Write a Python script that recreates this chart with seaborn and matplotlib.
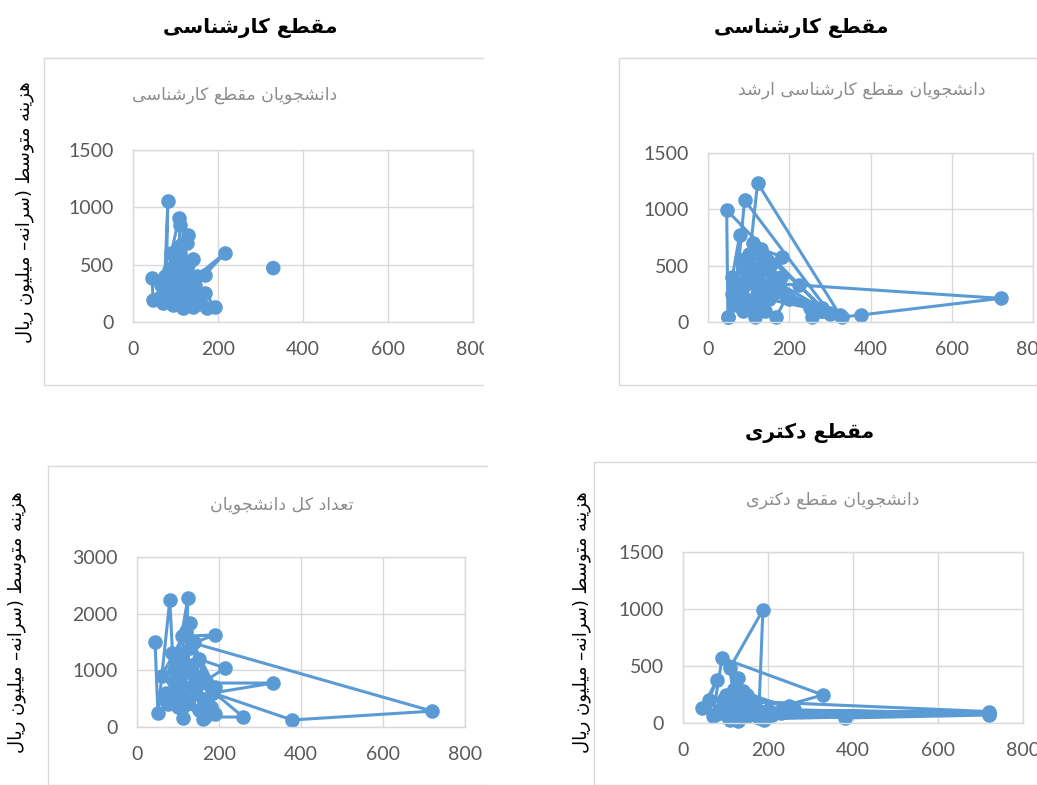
import numpy as np
import pandas as pd
import matplotlib
matplotlib.use("Agg")
import matplotlib.pyplot as plt
from matplotlib.lines import Line2D
from matplotlib.patches import Rectangle
import seaborn as sns

# ---- data ----
bach_x = [75, 82, 78, 90, 108, 111, 105, 129, 115, 127, 100, 45, 47, 70, 85, 118, 130, 140, 120, 169, 216, 150, 130, 174, 193, 170, 90, 110, 100, 130, 115, 85, 105, 125, 95,
          100, 120, 140, 110, 90, 150, 135, 95, 125, 145, 105, 80, 65, 115, 140, 100, 160, 70, 85, 60]
bach_y = [400, 1055, 300, 600, 907, 846, 500, 759, 680, 690, 400, 384, 190, 250, 180, 122, 300, 130, 450, 410, 600, 400, 200, 122, 130, 250, 350, 550, 250, 500, 150, 450, 300, 350, 200,
          350, 200, 550, 600, 450, 250, 400, 150, 180, 320, 650, 280, 320, 380, 220, 520, 160, 170, 230, 210]
bach_solo_x = [330]
bach_solo_y = [470]

ms_x = [280, 46, 49, 60, 78, 70, 90, 300, 100, 122, 325, 256, 329, 376, 720, 224, 110, 115, 130, 183, 140, 90, 168, 193, 120, 60, 100, 160, 140, 80, 200, 110, 130, 250, 95, 150, 70, 120, 170, 105, 50,
        110, 300, 90, 140, 75, 160, 100, 130, 65, 115, 180, 85, 125, 280, 150, 95]
ms_y = [120, 994, 44, 400, 772, 300, 1083, 80, 500, 1234, 60, 44, 44, 62, 210, 328, 350, 44, 650, 577, 300, 200, 44, 222, 600, 250, 150, 400, 100, 550, 200, 350, 450, 120, 350, 500, 150, 250, 300, 400, 44,
        700, 70, 450, 550, 200, 250, 600, 150, 350, 480, 400, 100, 300, 100, 200, 520]

tot_x = [44, 51, 80, 90, 124, 120, 110, 190, 137, 720, 378, 185, 150, 215, 100, 332, 170, 112, 130, 166, 259, 140, 100, 120, 190, 90, 150, 70, 130, 160, 110, 75, 140, 180, 100, 160, 60, 120, 190,
         95, 130, 105, 170, 85, 145, 115, 65, 135, 175, 100, 125]
tot_y = [1500, 247, 2241, 800, 2276, 1000, 1600, 1624, 1482, 280, 124, 600, 1200, 1041, 500, 776, 776, 159, 1835, 176, 176, 900, 1300, 400, 230, 1000, 300, 600, 700, 500, 1200, 400, 1500, 350, 800, 150, 900, 1700, 700,
         1100, 1400, 600, 450, 1300, 900, 700, 500, 1100, 250, 350, 1000]

phd_x = [45, 80, 60, 70, 92, 329, 200, 150, 720, 110, 120, 110, 188, 178, 130, 100, 720, 381, 140, 260, 120, 160, 720, 90, 200, 130, 170, 100, 150, 230, 80, 140, 180, 120, 250, 160, 110, 190, 130,
         720, 95, 150, 210, 125, 170, 720, 105, 145, 240]
phd_y = [132, 377, 200, 60, 570, 246, 110, 60, 80, 30, 220, 480, 991, 40, 395, 100, 70, 44, 150, 120, 300, 80, 90, 120, 60, 20, 180, 250, 120, 90, 80, 280, 100, 60, 150, 200, 150, 30, 100,
         100, 200, 250, 70, 150, 120, 85, 50, 180, 100]

ylabel_text = "هزینه متوسط (سرانه– میلیون ریال"
titles = ["مقطع کارشناسی", "مقطع کارشناسی", None, "مقطع دکتری"]
inner_titles = ["دانشجویان مقطع کارشناسی", "دانشجویان مقطع کارشناسی ارشد",
                "تعداد کل دانشجویان", "دانشجویان مقطع دکتری"]

# ---- simple persian shaping (matplotlib has no RTL layout) ----
FORMS = {
    'ا': (0xFE8D, 0xFE8E, None, None),
    'ب': (0xFE8F, 0xFE90, 0xFE91, 0xFE92),
    'ت': (0xFE95, 0xFE96, 0xFE97, 0xFE98),
    'ج': (0xFE9D, 0xFE9E, 0xFE9F, 0xFEA0),
    'د': (0xFEA9, 0xFEAA, None, None),
    'ر': (0xFEAD, 0xFEAE, None, None),
    'ز': (0xFEAF, 0xFEB0, None, None),
    'س': (0xFEB1, 0xFEB2, 0xFEB3, 0xFEB4),
    'ش': (0xFEB5, 0xFEB6, 0xFEB7, 0xFEB8),
    'ط': (0xFEC1, 0xFEC2, 0xFEC3, 0xFEC4),
    'ع': (0xFEC9, 0xFECA, 0xFECB, 0xFECC),
    'ق': (0xFED5, 0xFED6, 0xFED7, 0xFED8),
    'ک': (0xFB8E, 0xFB8F, 0xFB90, 0xFB91),
    'ل': (0xFEDD, 0xFEDE, 0xFEDF, 0xFEE0),
    'م': (0xFEE1, 0xFEE2, 0xFEE3, 0xFEE4),
    'ن': (0xFEE5, 0xFEE6, 0xFEE7, 0xFEE8),
    'ه': (0xFEE9, 0xFEEA, 0xFEEB, 0xFEEC),
    'و': (0xFEED, 0xFEEE, None, None),
    'ی': (0xFBFC, 0xFBFD, 0xFBFE, 0xFBFF),
}
NO_LEFT_JOIN = set('ادرزو')


def fa(text):
    out = []
    for i, c in enumerate(text):
        if c not in FORMS:
            out.append(c)
            continue
        prev = text[i - 1] if i > 0 else None
        nxt = text[i + 1] if i + 1 < len(text) else None
        jp = prev in FORMS and prev not in NO_LEFT_JOIN
        jn = nxt in FORMS and c not in NO_LEFT_JOIN
        iso, fin, ini, med = FORMS[c]
        if jp and jn:
            g = med
        elif jp:
            g = fin
        elif jn:
            g = ini
        else:
            g = iso
        out.append(chr(g))
    s = ''.join(out)[::-1]
    return s.translate(str.maketrans('()', ')('))


sns.set_theme(style="white")
plt.rcParams['font.family'] = ['Lato', 'DejaVu Sans']

W, H = 1037, 785
fig = plt.figure(figsize=(W / 100, H / 100), dpi=100)
fig.patch.set_facecolor('white')

blue = '#5B9BD5'
grid_c = '#d9d9d9'
tick_c = '#595959'

# plot area of each panel in pixels: left, right, top, bottom
panels = [
    dict(l=133, r=473, t=150, b=322, ymax=1500, step=500, x=bach_x, y=bach_y),
    dict(l=708, r=1033, t=153, b=322, ymax=1500, step=500, x=ms_x, y=ms_y),
    dict(l=137, r=465, t=557, b=727, ymax=3000, step=1000, x=tot_x, y=tot_y),
    dict(l=683, r=1023, t=552, b=723, ymax=1500, step=500, x=phd_x, y=phd_y),
]
# inner title centre, bold title centre, ylabel centre
inner_pos = [(235, 95), (862, 90), (282, 505), (833, 500)]
title_pos = [(250, 28), (801, 28), None, (810, 433)]
ylab_pos = [(25, 212), (583, 212), (17, 622), (582, 622)]
# chart-area frames: left, right, top, bottom
frames = [(44, 483, 58, 385), (619, 1037, 58, 385), (48, 487, 466, 785), (594, 1037, 462, 785)]


def fx(px):
    return px / W


def fy(py):
    return 1 - py / H


for i, p in enumerate(panels):
    ax = fig.add_axes([fx(p['l']), fy(p['b']), (p['r'] - p['l']) / W, (p['b'] - p['t']) / H])
    df = pd.DataFrame({'x': p['x'], 'y': p['y']})
    sns.lineplot(data=df, x='x', y='y', sort=False, estimator=None, ax=ax,
                 color=blue, linewidth=2.2, marker='o', markersize=10.5,
                 markeredgewidth=0, clip_on=False)
    if i == 0:
        sns.scatterplot(x=bach_solo_x, y=bach_solo_y, ax=ax, color=blue,
                        s=110, edgecolor='none', clip_on=False)
    ax.set_xlim(0, 800)
    ax.set_ylim(0, p['ymax'])
    ax.set_xticks([0, 200, 400, 600, 800])
    ax.set_yticks(np.arange(0, p['ymax'] + 1, p['step']))
    ax.grid(True, color=grid_c, linewidth=1)
    ax.set_axisbelow(True)
    for s in ax.spines.values():
        s.set_color(grid_c)
        s.set_linewidth(1)
    ax.tick_params(length=0, pad=14, labelsize=14, labelcolor=tick_c)
    ax.set_xlabel('')
    ax.set_ylabel('')
    ax.set_facecolor('none')

    cx, cy = inner_pos[i]
    fig.text(fx(cx), fy(cy), fa(inner_titles[i]), ha='center', va='center',
             fontsize=12.5, color='#8c8c8c', family=['DejaVu Sans'])
    if title_pos[i] is not None:
        tx, ty = title_pos[i]
        fig.text(fx(tx), fy(ty), fa(titles[i]), ha='center', va='center',
                 fontsize=14.5, fontweight='bold', color='black', family=['DejaVu Sans'])
    lx, ly = ylab_pos[i]
    fig.text(fx(lx), fy(ly), fa(ylabel_text), ha='center', va='center',
             rotation=90, fontsize=13, color='black', family=['DejaVu Sans'])

    l, r, t, b = frames[i]
    for xs, ys in [((l, r), (t, t)), ((l, r), (b, b)), ((l, l), (t, b))]:
        fig.add_artist(Line2D([fx(v) for v in xs], [fy(v) for v in ys],
                              color=grid_c, linewidth=1, zorder=5))

# the top-left chart is cropped on its right side
fig.add_artist(Rectangle((fx(484), fy(390)), (600 - 484) / W, 390 / H,
                         transform=fig.transFigure, facecolor='white',
                         edgecolor='none', zorder=10))

fig.savefig('out.png', dpi=100)
